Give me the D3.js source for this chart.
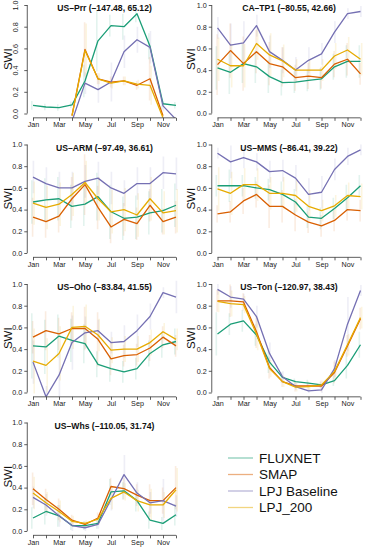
<!DOCTYPE html>
<html>
<head>
<meta charset="utf-8">
<script src="https://cdn.jsdelivr.net/npm/d3@7"></script>
<style>
html,body{margin:0;padding:0;background:#fff;}
svg{display:block;font-family:"Liberation Sans",Arial,Helvetica,sans-serif;}
</style>
</head>
<body>
<svg id="chart" width="367" height="550"></svg>
<script>
// ---------- DATA ----------
const months = ["Jan","Feb","Mar","Apr","May","Jun","Jul","Aug","Sep","Oct","Nov","Dec"];
const monthLabels = ["Jan","Mar","May","Jul","Sep","Nov"];
const yTicks = [0.0, 0.2, 0.4, 0.6, 0.8, 1.0];
const seriesNames = ["FLUXNET","SMAP","LPJ Baseline","LPJ_200"];
const seriesColors = ["#1b9e77","#d95f02","#7570b3","#e6ab02"];
const siteTitles = ["US\u2013Prr (\u2013147.48, 65.12)","CA\u2013TP1 (\u201380.55, 42.66)","US\u2013ARM (\u201397.49, 36.61)","US\u2013MMS (\u201386.41, 39.22)","US\u2013Oho (\u201383.84, 41.55)","US\u2013Ton (\u2013120.97, 38.43)","US\u2013Whs (\u2013110.05, 31.74)"];

// US-Prr
const prrFluxnet = [0.075,0.06,0.055,0.08,0.30,0.67,0.81,0.80,0.92,0.62,0.09,0.075];
const prrSmap    = [null,null,null,-0.02,0.59,0.32,0.29,0.30,0.26,0.32,-0.02,null];
const prrLpj     = [null,null,null,-0.07,0.28,0.22,0.29,0.57,0.68,0.61,0.07,-0.055];
const prrLpj200  = [null,null,null,-0.02,0.58,0.32,0.28,0.30,0.27,0.26,-0.04,null];
const prrErr = [
  [0.04,0.03,0.03,0.03,0.15,0.28,0.10,0.12,0.08,0.12,0.05,0.03],
  [0,0,0,0,0.25,0.05,0.05,0.04,0.04,0.20,0,0],
  [0,0,0,0,0.10,0.12,0.18,0.15,0.12,0.15,0.05,0],
  [0,0,0,0,0.25,0.05,0.05,0.04,0.04,0.18,0,0]];
// CA-TP1
const tp1Fluxnet = [0.42,0.38,0.46,0.43,0.34,0.285,0.29,0.305,0.32,0.43,0.48,0.48];
const tp1Smap    = [0.45,0.58,0.46,0.57,0.46,0.43,0.33,0.345,0.33,0.455,0.50,0.365];
const tp1Lpj     = [0.79,0.63,0.65,0.81,0.57,0.49,0.40,0.49,0.55,0.75,0.92,0.94];
const tp1Lpj200  = [0.50,0.44,0.44,0.645,0.54,0.485,0.40,0.40,0.40,0.53,0.585,0.50];
const tp1Err = [
  [0.20,0.20,0.18,0.15,0.15,0.12,0.10,0.10,0.10,0.12,0.15,0.15],
  [0.28,0.25,0.25,0.20,0.20,0.18,0.12,0.12,0.10,0.12,0.15,0.10],
  [0.10,0.20,0.20,0.10,0.15,0.12,0.12,0.12,0.10,0.10,0.05,0.05],
  [0.20,0.20,0.20,0.15,0.20,0.15,0.10,0.10,0.10,0.12,0.12,0.15]];
// US-ARM
const armFluxnet = [0.47,0.49,0.50,0.43,0.45,0.52,0.38,0.32,0.33,0.37,0.39,0.44];
const armSmap    = [0.33,0.29,0.34,0.50,0.63,0.42,0.24,0.31,0.27,0.44,0.29,0.33];
const armLpj     = [0.70,0.64,0.60,0.60,0.66,0.69,0.60,0.55,0.64,0.64,0.74,0.73];
const armLpj200  = [0.46,0.42,0.45,0.54,0.65,0.50,0.38,0.40,0.35,0.50,0.37,0.39];
const armErr = [
  [0.20,0.20,0.20,0.20,0.20,0.22,0.25,0.20,0.20,0.20,0.20,0.20],
  [0.18,0.15,0.15,0.20,0.28,0.20,0.15,0.15,0.15,0.15,0.12,0.15],
  [0.15,0.15,0.15,0.15,0.15,0.15,0.15,0.12,0.15,0.15,0.15,0.15],
  [0.20,0.20,0.20,0.20,0.20,0.20,0.20,0.20,0.20,0.20,0.20,0.20]];
// US-MMS
const mmsFluxnet = [0.62,0.62,0.62,0.60,0.585,0.54,0.47,0.33,0.32,0.41,0.51,0.62];
const mmsSmap    = [0.36,0.38,0.48,0.54,0.43,0.43,0.35,0.285,0.25,0.30,0.40,0.39];
const mmsLpj     = [0.92,0.84,0.88,0.84,0.75,0.76,0.69,0.54,0.56,0.77,0.89,0.95];
const mmsLpj200  = [0.59,0.55,0.63,0.63,0.55,0.55,0.53,0.43,0.39,0.435,0.53,0.52];
const mmsErr = [
  [0.10,0.15,0.10,0.10,0.10,0.12,0.12,0.10,0.10,0.10,0.12,0.10],
  [0.08,0.10,0.12,0.12,0.20,0.15,0.15,0.10,0.10,0.10,0.10,0.10],
  [0.05,0.15,0.10,0.08,0.10,0.10,0.12,0.15,0.15,0.10,0.08,0.05],
  [0.20,0.20,0.15,0.15,0.15,0.15,0.15,0.15,0.10,0.10,0.12,0.12]];
// US-Oho
const ohoFluxnet = [0.43,0.42,0.52,0.48,0.45,0.26,0.22,0.19,0.22,0.36,0.44,0.47];
const ohoSmap    = [0.51,0.57,0.54,0.59,0.59,0.49,0.31,0.34,0.35,0.41,0.51,0.43];
const ohoLpj     = [0.28,-0.04,0.16,0.46,0.55,0.57,0.46,0.47,0.57,0.70,0.92,0.88];
const ohoLpj200  = [0.29,0.25,0.36,0.60,0.61,0.53,0.39,0.40,0.40,0.46,0.56,0.49];
const ohoErr = [
  [0.30,0.25,0.20,0.20,0.18,0.12,0.12,0.10,0.10,0.12,0.12,0.12],
  [0.15,0.18,0.15,0.15,0.20,0.25,0.15,0.10,0.10,0.12,0.10,0.10],
  [0.20,0.10,0.20,0.25,0.15,0.10,0.10,0.15,0.15,0.12,0.05,0.15],
  [0.30,0.25,0.25,0.20,0.20,0.15,0.12,0.12,0.12,0.12,0.08,0.10]];
// US-Ton
const tonFluxnet = [0.54,0.63,0.66,0.53,0.28,0.14,0.10,0.087,0.07,0.11,0.25,0.44];
const tonSmap    = [0.845,0.845,0.835,0.56,0.23,0.10,0.06,0.06,0.06,0.185,0.43,0.68];
const tonLpj     = [0.95,0.88,0.86,0.70,0.36,0.145,0.055,0.015,0.025,0.22,0.63,0.94];
const tonLpj200  = [0.84,0.82,0.81,0.54,0.22,0.10,0.05,0.055,0.07,0.195,0.44,0.69];
const tonErr = [
  [0.20,0.10,0.10,0.10,0.10,0.05,0.03,0.03,0.03,0.05,0.12,0.12],
  [0.10,0.15,0.08,0.15,0.10,0.05,0.05,0.04,0.05,0.10,0.10,0.10],
  [0.05,0.10,0.05,0.10,0.10,0.05,0.03,0.02,0.03,0.08,0.25,0.05],
  [0.10,0.12,0.08,0.15,0.08,0.05,0.04,0.03,0.04,0.08,0.10,0.10]];
// US-Whs
const whsFluxnet = [0.12,0.18,0.14,0.05,0.05,0.07,0.36,0.37,0.28,0.10,0.07,0.15];
const whsSmap    = [0.39,0.29,0.20,0.10,0.06,0.12,0.41,0.39,0.33,0.28,0.28,0.40];
const whsLpj     = [0.31,0.24,0.14,0.05,0.03,0.06,0.29,0.52,0.35,0.26,0.28,0.23];
const whsLpj200  = [0.35,0.26,0.18,0.09,0.07,0.11,0.30,0.36,0.28,0.24,0.24,0.38];
const whsErr = [
  [0.10,0.12,0.10,0.04,0.04,0.05,0.12,0.08,0.10,0.08,0.06,0.10],
  [0.15,0.10,0.10,0.05,0.03,0.05,0.08,0.10,0.10,0.15,0.12,0.20],
  [0.10,0.10,0.10,0.05,0.03,0.04,0.10,0.18,0.10,0.10,0.20,0.10],
  [0.15,0.10,0.10,0.05,0.03,0.05,0.10,0.08,0.10,0.15,0.12,0.20]];

const panels = [
  {title: siteTitles[0], series: [prrFluxnet, prrSmap, prrLpj, prrLpj200], err: prrErr, rotY: true},
  {title: siteTitles[1], series: [tp1Fluxnet, tp1Smap, tp1Lpj, tp1Lpj200], err: tp1Err},
  {title: siteTitles[2], series: [armFluxnet, armSmap, armLpj, armLpj200], err: armErr},
  {title: siteTitles[3], series: [mmsFluxnet, mmsSmap, mmsLpj, mmsLpj200], err: mmsErr},
  {title: siteTitles[4], series: [ohoFluxnet, ohoSmap, ohoLpj, ohoLpj200], err: ohoErr},
  {title: siteTitles[5], series: [tonFluxnet, tonSmap, tonLpj, tonLpj200], err: tonErr},
  {title: siteTitles[6], series: [whsFluxnet, whsSmap, whsLpj, whsLpj200], err: whsErr}
];

// ---------- LAYOUT ----------
const svg = d3.select("#chart");
const colJan = [33, 217.5];
const monthStep = 13;
const rowTop = [5, 144.5, 284, 422.5];
const plotH = 108.5;
const errOffsets = [-1.2, -0.4, 0.4, 1.2];

panels.forEach((p, i) => {
  const col = i % 2, row = Math.floor(i / 2);
  const x = d3.scaleLinear().domain([1, 12]).range([colJan[col], colJan[col] + 11 * monthStep]);
  const y = d3.scaleLinear().domain([0, 1]).range([rowTop[row] + plotH, rowTop[row]]);
  const x0 = x(1 - 0.44), x1 = x(12 + 0.44);
  const yb = y(-0.04), yt = y(1.04);
  const g = svg.append("g");
  const clipId = "clip" + i;
  g.append("clipPath").attr("id", clipId).append("rect")
    .attr("x", x0).attr("y", yt).attr("width", x1 - x0).attr("height", yb - yt);
  const pg = g.append("g").attr("clip-path", `url(#${clipId})`);

  // error bars
  p.series.forEach((s, k) => {
    s.forEach((v, m) => {
      const e = p.err[k][m];
      if (v === null || !e) return;
      pg.append("line")
        .attr("x1", x(m + 1) + errOffsets[k]).attr("x2", x(m + 1) + errOffsets[k])
        .attr("y1", y(v - e)).attr("y2", y(v + e))
        .attr("stroke", seriesColors[k]).attr("stroke-opacity", 0.12)
        .attr("stroke-width", 1.6);
    });
  });

  // lines
  const line = d3.line().defined(d => d.v !== null).x(d => x(d.m)).y(d => y(d.v));
  p.series.forEach((s, k) => {
    pg.append("path")
      .datum(s.map((v, m) => ({m: m + 1, v: v})))
      .attr("d", line).attr("fill", "none")
      .attr("stroke", seriesColors[k]).attr("stroke-width", 1.3)
      .attr("stroke-linejoin", "round");
  });

  // x axis
  const xa = g.append("g").attr("transform", `translate(0,${yb})`)
    .call(d3.axisBottom(x).tickValues(d3.range(1, 13)).tickSize(3).tickPadding(1.5)
      .tickFormat(d => monthLabels.includes(months[d - 1]) ? months[d - 1] : ""));
  xa.selectAll("text").attr("font-size", 7.2).attr("fill", "#222").attr("font-family", "Liberation Sans, Arial, sans-serif");
  xa.selectAll("line,path").attr("stroke", "#333").attr("stroke-width", 0.8);
  xa.select(".domain").attr("d", `M${x(1)},0H${x(12)}`);

  // y axis
  const ya = g.append("g").attr("transform", `translate(${x0},0)`)
    .call(d3.axisLeft(y).tickValues(yTicks).tickSize(3).tickPadding(2)
      .tickFormat(d3.format(".1f")));
  ya.selectAll("text").attr("font-size", 7.2).attr("fill", "#222").attr("font-family", "Liberation Sans, Arial, sans-serif");
  ya.selectAll("line,path").attr("stroke", "#333").attr("stroke-width", 0.8);
  ya.select(".domain").attr("d", `M0,${y(0)}V${y(1)}`);
  if (p.rotY) {
    ya.selectAll(".tick text")
      .attr("transform", "rotate(-90)").attr("text-anchor", "middle")
      .attr("x", 0).attr("y", -9).attr("dy", "0");
  }

  // y label
  const labX = col === 0 ? 8 : 191;
  g.append("text").attr("transform", `translate(${labX},${y(0.5)}) rotate(-90)`)
    .attr("text-anchor", "middle").attr("dy", "0.36em")
    .attr("font-size", 11.5).attr("fill", "#111").text("SWI");

  // title
  g.append("text").attr("x", (x(1) + x(12)) / 2).attr("y", rowTop[row] + 6)
    .attr("text-anchor", "middle").attr("font-size", 8.6).attr("font-weight", "bold")
    .attr("fill", "#111").text(p.title);
});

// ---------- LEGEND ----------
const legend = svg.append("g");
const legY = d3.scalePoint().domain(seriesNames).range([458, 507.5]);
seriesNames.forEach((n, k) => {
  legend.append("line").attr("x1", 228).attr("x2", 253)
    .attr("y1", legY(n)).attr("y2", legY(n))
    .attr("stroke", seriesColors[k]).attr("stroke-opacity", 0.5).attr("stroke-width", 1.3);
  legend.append("text").attr("x", 259).attr("y", legY(n)).attr("dy", "0.36em")
    .attr("font-size", 13.5).attr("fill", "#111").text(n);
});
</script>
</body>
</html>
